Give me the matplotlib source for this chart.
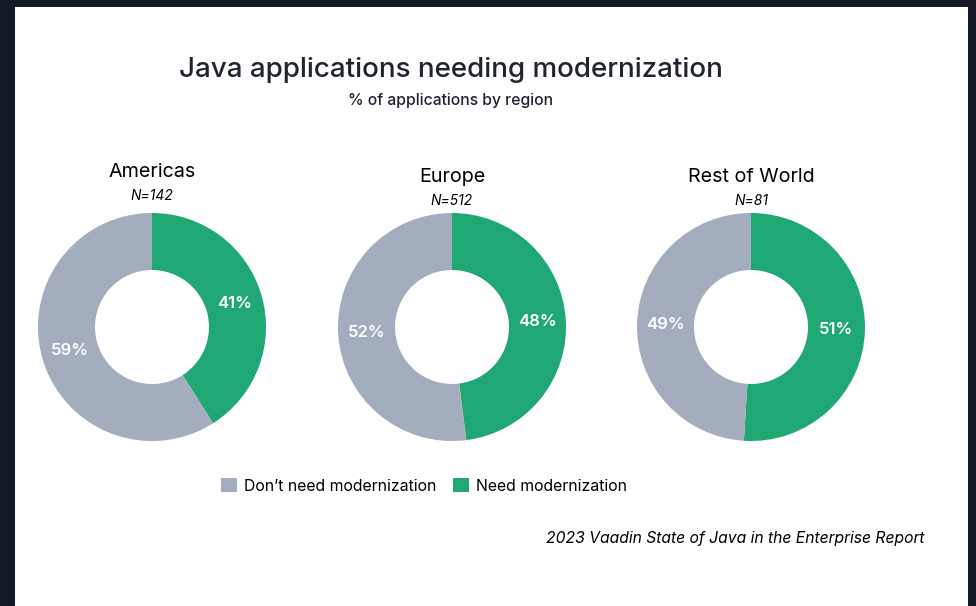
import matplotlib
matplotlib.use('Agg')
import numpy as np
import matplotlib.pyplot as plt
from matplotlib.patches import Rectangle, Patch

plt.rcParams['font.family'] = ['Inter', 'DejaVu Sans']

regions = ['Americas', 'Europe', 'Rest of World']
sample_sizes = [142, 512, 81]
need_modern = [41, 48, 51]
dont_need = [59, 52, 49]
series_names = ["Don\u2019t need modernization", 'Need modernization']

GREEN = '#1fa774'
GRAY = '#a3adbd'
DARK = '#1f2430'

W, H = 976, 606
fig = plt.figure(figsize=(W / 100, H / 100), dpi=100, facecolor='#131a26')
fig.patches.append(Rectangle((15 / W, 0), (968 - 15) / W, (606 - 7) / H,
                             transform=fig.transFigure, facecolor='white',
                             edgecolor='none', zorder=-5))

fig.text(451 / W, 1 - 70 / H, 'Java applications needing modernization',
         ha='center', va='center', fontsize=20, fontweight='medium', color=DARK)
fig.text(451 / W, 1 - 100 / H, '% of applications by region',
         ha='center', va='center', fontsize=11.3, fontweight='medium', color=DARK)

centers_x = [152, 452, 751]
title_y = [172, 177, 177]
r = 114
for i, name in enumerate(regions):
    cx, cy = centers_x[i], 327
    ax = fig.add_axes([(cx - r) / W, 1 - (cy + r) / H, 2 * r / W, 2 * r / H])
    ax.set_zorder(2)
    vals = [need_modern[i], dont_need[i]]
    ax.pie(vals, colors=[GREEN, GRAY], startangle=90,
           counterclock=False, radius=1,
           wedgeprops=dict(width=0.5, edgecolor='none'))
    # percentage labels in the middle of the ring
    start = 90
    for v in vals:
        mid = np.deg2rad(start - v / 100 * 360 / 2)
        ax.text(0.75 * np.cos(mid), 0.75 * np.sin(mid), f'{v}%',
                ha='center', va='center', color='white', fontsize=12,
                fontweight='semibold')
        start -= v / 100 * 360
    ax.set_xlim(-1, 1)
    ax.set_ylim(-1, 1)
    ax.set_aspect('equal')
    ax.axis('off')
    fig.text(cx / W, 1 - title_y[i] / H, name, ha='center', va='center',
             fontsize=14.2, color='black')
    fig.text(cx / W, 1 - (title_y[i] + 24) / H, f'N={sample_sizes[i]}',
             ha='center', va='center', fontsize=10, style='italic', color='black')

handles = [Patch(facecolor=GRAY, edgecolor='none'),
           Patch(facecolor=GREEN, edgecolor='none')]
fig.legend(handles, series_names, loc='center', bbox_to_anchor=(424 / W, 1 - 486 / H),
           ncol=2, frameon=False, fontsize=11.4, handlelength=1.0, handleheight=1.0,
           handletextpad=0.45, columnspacing=1.05)

fig.text(925 / W, 1 - 538 / H, '2023 Vaadin State of Java in the Enterprise Report',
         ha='right', va='center', fontsize=11.3, style='italic', color='black')

fig.savefig('out.png', dpi=100, facecolor=fig.get_facecolor())
